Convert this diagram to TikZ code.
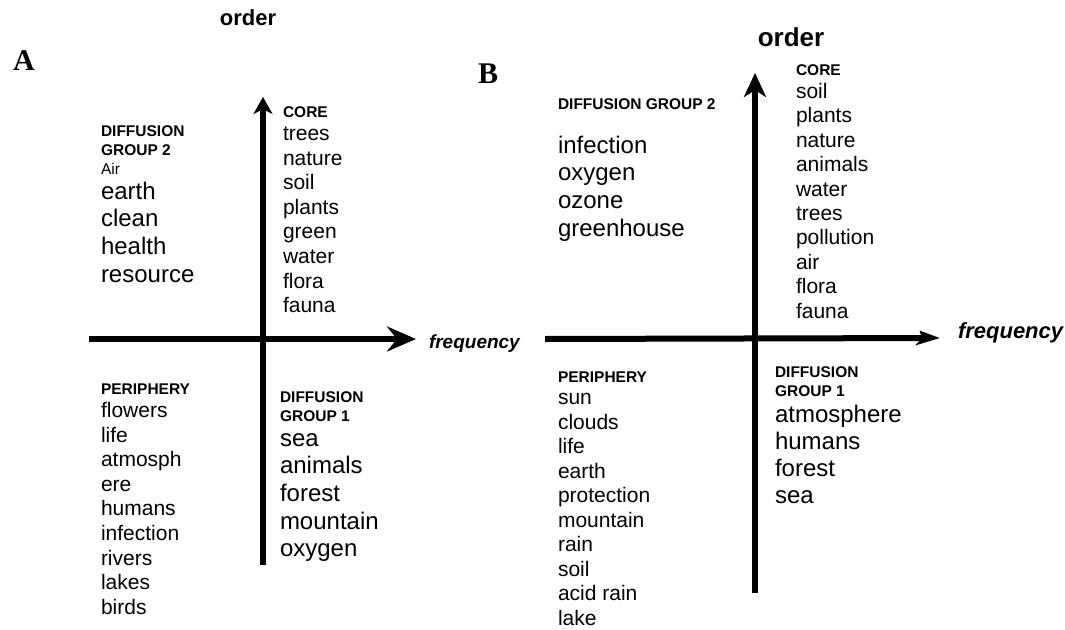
\documentclass[tikz,border=0pt]{standalone}
\usepackage{fontspec}
\setmainfont{Liberation Sans}
\newfontfamily\panelfont{Liberation Serif}
\usetikzlibrary{arrows.meta}

\begin{document}
\begin{tikzpicture}[x=1pt,y=-1pt,line width=6pt,
  every node/.style={inner sep=0pt},
  head/.style={anchor=base west,font=\fontsize{15.5}{18}\selectfont\bfseries},
  word/.style={anchor=base west,font=\fontsize{21}{24}\selectfont},
  bigword/.style={anchor=base west,font=\fontsize{24}{28}\selectfont},
  axislabel/.style={font=\fontsize{22}{26}\selectfont\bfseries},
  freqlabel/.style={anchor=west,font=\fontsize{19}{22}\selectfont\bfseries\itshape},
  panel/.style={font=\fontsize{30}{34}\selectfont\panelfont\bfseries}]
  \useasboundingbox (0,0) rectangle (1065,629);

  % panel A
  \node[panel] (lblA) at (24,61) {A};
  \node[axislabel] (ordA) at (248,18) {order};
  \coordinate (aL) at (89,339);
  \coordinate (aR) at (416,339);
  \coordinate (aB) at (263,565);
  \coordinate (aT) at (263,97);
  \draw[-{Stealth[length=29pt,width=25pt,inset=10pt]}] (aL) -- (aR);
  \draw[-{Stealth[length=17pt,width=19pt,inset=5pt]}] (aB) -- (aT);
  \node[freqlabel] (freqA) at (426,344) {frequency};

  \node[head] (coreA) at (280,117.5) {CORE};
  \foreach \w [count=\i] in {trees,nature,soil,plants,green,water,flora,fauna}
    \node[word] (coreA-\i) at (280,{140.5+24.6*(\i-1)}) {\w};

  \node[head] (dgtwoA) at (98,136.5) {DIFFUSION};
  \node[head] (dgtwoA-b) at (98,155.5) {GROUP 2};
  \node[word,font=\fontsize{15.5}{18}\selectfont] (airA) at (98,174.5) {Air};
  \foreach \w [count=\i] in {earth,clean,health,resource}
    \node[bigword] (dgtwoA-\i) at (98,{199+27.7*(\i-1)}) {\w};

  \node[head] (perA) at (98,394.5) {PERIPHERY};
  \foreach \w [count=\i] in {flowers,life,atmosph,ere,humans,infection,rivers,lakes,birds}
    \node[word] (perA-\i) at (98,{417.5+24.6*(\i-1)}) {\w};

  \node[head] (dgoneA) at (277,402.5) {DIFFUSION};
  \node[head] (dgoneA-b) at (277,421.5) {GROUP 1};
  \foreach \w [count=\i] in {sea,animals,forest,mountain,oxygen}
    \node[bigword] (dgoneA-\i) at (277,{446+27.7*(\i-1)}) {\w};

  % panel B
  \node[panel] (lblB) at (488,74) {B};
  \node[axislabel,font=\fontsize{26}{30}\selectfont\bfseries] (ordB) at (791,37) {order};
  \coordinate (bL) at (545,339);
  \coordinate (bR) at (940,338);
  \coordinate (bB) at (755,593);
  \coordinate (bT) at (755,73);
  \draw[-{Stealth[length=22pt,width=14pt,inset=4pt,slant=0.3]}] (bL) -- (bR);
  \draw[-{Stealth[length=24pt,width=22pt,inset=7pt]}] (bB) -- (bT);
  \node[freqlabel,font=\fontsize{22}{26}\selectfont\bfseries\itshape] (freqB) at (955,333) {frequency};

  \node[head] (coreB) at (793,75.5) {CORE};
  \foreach \w [count=\i] in {soil,plants,nature,animals,water,trees,pollution,air,flora,fauna}
    \node[word] (coreB-\i) at (793,{98.5+24.4*(\i-1)}) {\w};

  \node[head] (dgtwoB) at (555,109.5) {DIFFUSION GROUP 2};
  \foreach \w [count=\i] in {infection,oxygen,ozone,greenhouse}
    \node[bigword] (dgtwoB-\i) at (555,{153+27.7*(\i-1)}) {\w};

  \node[head] (perB) at (555,382.5) {PERIPHERY};
  \foreach \w [count=\i] in {sun,clouds,life,earth,protection,mountain,rain,soil,acid rain,lake}
    \node[word] (perB-\i) at (555,{404.5+24.5*(\i-1)}) {\w};

  \node[head] (dgoneB) at (772,377.5) {DIFFUSION};
  \node[head] (dgoneB-b) at (772,396.5) {GROUP 1};
  \foreach \w [count=\i] in {atmosphere,humans,forest,sea}
    \node[bigword] (dgoneB-\i) at (772,{422+27.3*(\i-1)}) {\w};
\end{tikzpicture}
\end{document}
